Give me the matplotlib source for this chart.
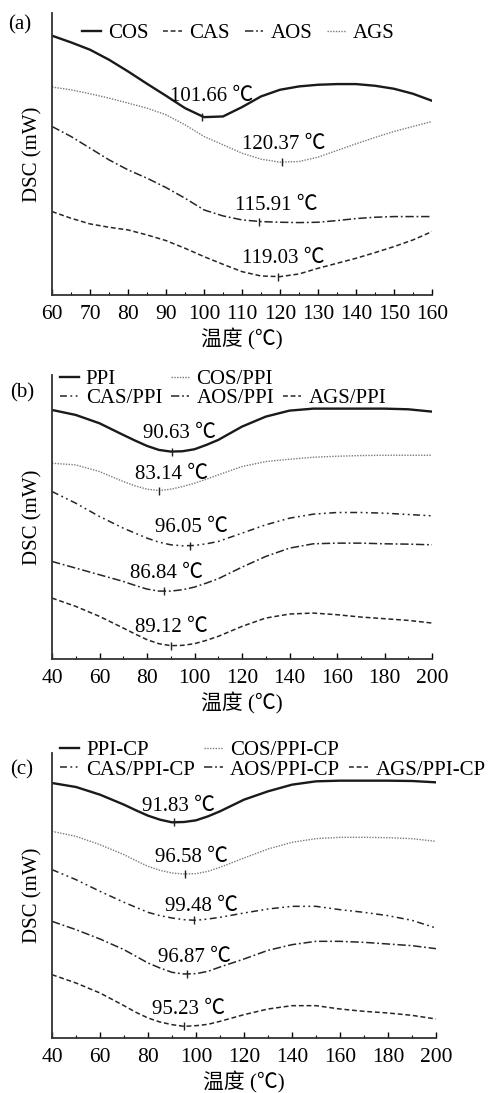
"""
DSC curves of oligosaccharides, PPI and PPI-CP complexes, three stacked panels
"""

import matplotlib
matplotlib.use("Agg")
import matplotlib.pyplot as plt
from matplotlib import ticker
from matplotlib.lines import Line2D

plt.rcParams.update({
    "font.family": ["Liberation Serif", "Noto Sans CJK SC", "DejaVu Sans"],
    "font.size": 15,
    "axes.unicode_minus": False,
    "lines.scale_dashes": False,
})

# ---------------- (a) 60-160 ℃ ----------------
temp_a = [60, 65, 70, 75, 80, 85, 90, 95, 100, 105, 110,
          115, 120, 125, 130, 135, 140, 145, 150, 155, 160]
cos_a = [777, 757, 735, 705, 670, 633, 597, 560, 533, 535, 563,
         595, 615, 625, 630, 632, 632, 627, 618, 603, 582]
cas_a = [250, 230, 213, 203, 195, 180, 163, 140, 115, 92, 70,
         57, 55, 63, 80, 95, 110, 127, 145, 165, 190]
aos_a = [505, 475, 440, 405, 375, 350, 322, 290, 255, 237, 225,
         220, 218, 217, 218, 223, 229, 233, 235, 235, 235]
ags_a = [623, 615, 603, 590, 575, 560, 540, 510, 475, 450, 425,
         407, 398, 400, 413, 433, 453, 472, 490, 505, 520]
labels_a = ["COS", "CAS", "AOS", "AGS"]
peak_x_a = [99.6, 119.6, 114.4, 120.4]
peak_y_a = [533, 55, 218, 398]
peak_t_a = ["101.66", "119.03", "115.91", "120.37"]

# ---------------- (b) 40-200 ℃ ----------------
temp_b = [40, 50, 60, 70, 75, 80, 85, 90, 95, 100, 105,
          110, 120, 130, 140, 150, 160, 170, 180, 190, 200]
ppi_b = [748, 733, 708, 673, 656, 640, 628, 623, 624, 630, 643,
         658, 698, 728, 746, 752, 752, 752, 752, 750, 743]
cos_b = [588, 583, 563, 533, 520, 510, 506, 510, 518, 528, 540,
         553, 578, 593, 600, 606, 609, 611, 612, 612, 612]
cas_b = [503, 468, 428, 393, 378, 363, 351, 343, 340, 341, 346,
         353, 378, 403, 423, 435, 440, 440, 438, 434, 430]
aos_b = [293, 273, 253, 233, 221, 210, 204, 204, 208, 216, 228,
         241, 276, 308, 333, 346, 348, 348, 346, 345, 343]
ags_b = [183, 158, 128, 93, 75, 58, 46, 40, 41, 46, 56,
         68, 98, 123, 135, 138, 133, 126, 121, 116, 108]
labels_b = ["PPI", "COS/PPI", "CAS/PPI", "AOS/PPI", "AGS/PPI"]
peak_x_b = [90.5, 84.9, 98.0, 87.0, 90.1]
peak_y_b = [623, 506, 340, 204, 40]
peak_t_b = ["90.63", "83.14", "96.05", "86.84", "89.12"]

# ---------------- (c) 40-200 ℃ ----------------
temp_c = temp_b
ppi_c = [765, 753, 730, 700, 683, 667, 655, 647, 648, 653, 665,
         680, 715, 740, 760, 770, 772, 772, 772, 771, 767]
cos_c = [620, 605, 580, 550, 532, 515, 503, 495, 492, 493, 500,
         512, 540, 567, 587, 598, 602, 602, 601, 598, 590]
cas_c = [505, 475, 440, 407, 392, 377, 367, 360, 355, 353, 357,
         362, 375, 387, 395, 395, 385, 377, 367, 353, 330]
aos_c = [350, 325, 297, 265, 245, 225, 210, 197, 192, 193, 200,
         213, 237, 263, 280, 290, 290, 287, 282, 277, 268]
ags_c = [190, 165, 135, 97, 77, 60, 48, 40, 35, 37, 41,
         50, 70, 87, 97, 97, 87, 80, 75, 68, 57]
labels_c = ["PPI-CP", "COS/PPI-CP", "CAS/PPI-CP", "AOS/PPI-CP", "AGS/PPI-CP"]
peak_x_c = [90.7, 95.3, 99.0, 96.3, 94.9]
peak_y_c = [647, 492, 353, 192, 35]
peak_t_c = ["91.83", "96.58", "99.48", "96.87", "95.23"]

# line styles
STY = {
    "solid": dict(ls="-", lw=1.7, color="#1a1a1a"),
    "dash": dict(ls=(0, (3.5, 2.0)), lw=1.1, color="#262626"),
    "dashdot": dict(ls=(0, (6.0, 2.0, 1.3, 2.0)), lw=1.1, color="#262626"),
    "dashdotdot": dict(ls=(0, (5.0, 2.5, 1.3, 2.5, 1.3, 2.5)), lw=1.1, color="#262626"),
    "dot": dict(ls=(0, (1.0, 1.0)), lw=1.0, color="#7a7a7a"),
}

W, H = 493, 1093
FS = 15


def px_axes(left, top, right, bottom):
    return [left / W, 1 - bottom / H, (right - left) / W, (bottom - top) / H]


def setup_axes(ax, xlim, major, minor, ylim):
    ax.set_xlim(*xlim)
    ax.set_ylim(*ylim)
    ax.set_xticks(range(xlim[0], xlim[1] + 1, major))
    ax.xaxis.set_minor_locator(ticker.MultipleLocator(minor))
    ax.tick_params(axis="x", which="major", direction="in", length=4, width=1, pad=7, labelsize=15.5)
    ax.tick_params(axis="x", which="minor", direction="in", length=2.5, width=0.8)
    ax.set_yticks([])
    for s in ("top", "right"):
        ax.spines[s].set_visible(False)
    for s in ("left", "bottom"):
        ax.spines[s].set_linewidth(1.3)
        ax.spines[s].set_color("#333333")
    ax.set_xlabel("温度 (℃)", fontsize=FS, labelpad=3)
    ax.set_ylabel("DSC (mW)", fontsize=FS, labelpad=7)


def draw_peaks(ax, px, py, pt, offsets):
    for x, y, t, (dx, dy) in zip(px, py, pt, offsets):
        ax.plot([x], [y], marker="|", ms=6, mew=1.0, color="#222222")
        ax.annotate(f"{t} ℃", (x, y), xytext=(dx, dy), textcoords="offset pixels",
                    ha="center", va="center", fontsize=15)


def panel_a(fig):
    ax = fig.add_axes(px_axes(52, 13, 432, 295))
    keys = ["solid", "dash", "dashdot", "dot"]
    for ys, lab, k in zip([cos_a, cas_a, aos_a, ags_a], labels_a, keys):
        ax.plot(temp_a, ys, label=lab, **STY[k])
    setup_axes(ax, (60, 160), 10, 5, (0, 845))
    draw_peaks(ax, peak_x_a, peak_y_a, peak_t_a, [(9, 21), (5, 18), (18, 17), (2, 18)])
    ax.legend(loc="center left", bbox_to_anchor=(0.079, 0.929), ncol=4, frameon=False,
              borderpad=0, borderaxespad=0, handlelength=0.9, handletextpad=0.34,
              columnspacing=0.72, fontsize=FS)
    fig.text(20 / W, 1 - 25 / H, "(a)", ha="center", va="center", fontsize=FS)


def panel_multi(fig, box, temps, series, labels, px, py, pt, offsets, anchor, colsp, tag, tag_xy, ylim):
    ax = fig.add_axes(px_axes(*box))
    keys = ["solid", "dot", "dashdotdot", "dashdot", "dash"]
    handles = []
    for ys, lab, k in zip(series, labels, keys):
        h, = ax.plot(temps, ys, label=lab, **STY[k])
        handles.append(h)
    setup_axes(ax, (40, 200), 20, 10, ylim)
    draw_peaks(ax, px, py, pt, offsets)
    blank = Line2D([], [], lw=0)
    order = [handles[0], handles[2], handles[1], handles[3], blank, handles[4]]
    names = [labels[0], labels[2], labels[1], labels[3], "", labels[4]]
    ax.legend(order, names, loc="center left", bbox_to_anchor=anchor, ncol=3, frameon=False,
              borderpad=0, borderaxespad=0, handlelength=0.9, handletextpad=0.34,
              columnspacing=colsp, labelspacing=0.0, fontsize=FS)
    fig.text(tag_xy[0] / W, 1 - tag_xy[1] / H, tag, ha="center", va="center", fontsize=FS)


def main():
    fig = plt.figure(figsize=(W / 100, H / 100), dpi=100)
    panel_a(fig)
    panel_multi(fig, (52, 375, 432, 659), temp_b, [ppi_b, cos_b, cas_b, aos_b, ags_b],
                labels_b, peak_x_b, peak_y_b, peak_t_b,
                [(8, 18), (13, 16), (2, 18), (3, 18), (0, 18)],
                (0.021, 0.951), 0.4, "(b)", (22, 393), (0, 853))
    panel_multi(fig, (52, 753, 436, 1038), temp_c, [ppi_c, cos_c, cas_c, aos_c, ags_c],
                labels_c, peak_x_c, peak_y_c, peak_t_c,
                [(5, 16), (7, 16), (8, 14), (7, 16), (5, 17)],
                (0.021, 0.975), 0.45, "(c)", (22, 770), (0, 855))
    fig.savefig("out.png", dpi=100)
    plt.close(fig)


if __name__ == "__main__":
    main()
